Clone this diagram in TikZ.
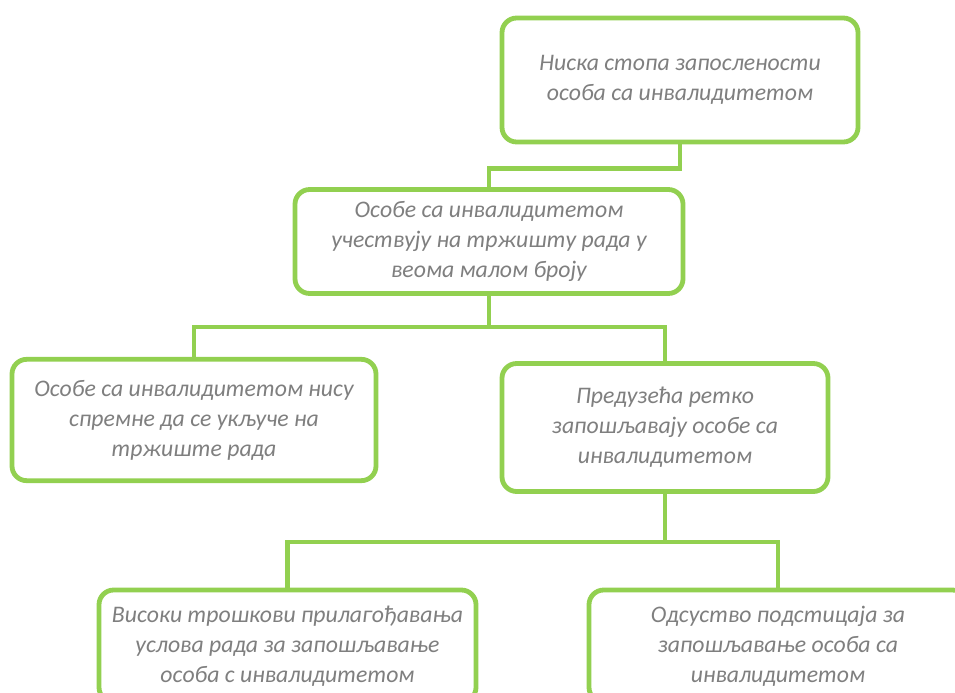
\documentclass[tikz,border=0pt]{standalone}
\usepackage{fontspec}
\setmainfont{Carlito}
\usepackage{xcolor}
\usepackage{tikz}
\definecolor{leafgreen}{HTML}{92D050}
\definecolor{textgray}{HTML}{7F7F7F}
\tikzset{
  box/.style={draw=leafgreen, line width=3.6pt, rounded corners=11pt, fill=white,
    align=center, text=textgray, font=\fontsize{17.8}{22.5}\selectfont\itshape, inner sep=0pt},
  link/.style={draw=leafgreen, line width=3.2pt}
}

\begin{document}
\begin{tikzpicture}[x=0.75pt,y=-0.75pt]
\useasboundingbox (0,0) rectangle (955,692);
\clip (0,0) rectangle (955,692);
% boxes
\node[box, minimum width=267pt, minimum height=93pt] (top) at (680,80)
  {Ниска стопа запослености\\особа са инвалидитетом};
\node[box, minimum width=291pt, minimum height=78pt] (mid) at (489,241.5)
  {Особе са инвалидитетом\\учествују на тржишту рада у\\веома малом броју};
\node[box, minimum width=273pt, minimum height=91pt] (left) at (194,420)
  {Особе са инвалидитетом нису\\спремне да се укључе на\\тржиште рада};
\node[box, minimum width=244.5pt, minimum height=96pt] (rmid) at (665,427.5)
  {Предузећа ретко\\запошљавају особе са\\инвалидитетом};
\node[box, minimum width=282.75pt, minimum height=84pt] (bl) at (287.5,646)
  {Високи трошкови прилагођавања\\услова рада за запошљавање\\особа с инвалидитетом};
\node[box, minimum width=283.5pt, minimum height=84pt] (br) at (778,646)
  {Одсуство подстицаја за\\запошљавање особа са\\инвалидитетом};
% connectors
\draw[link] (top.south) -- ++(0,24) coordinate (j0) -| (mid.north);
\draw[link] (mid.south) -- ++(0,31) coordinate (j1);
\draw[link] (left.north) |- (j1) -| (rmid.north);
\draw[link] (rmid.south) -- ++(0,48) coordinate (j2);
\draw[link] (bl.north) |- (j2) -| (br.north);
\end{tikzpicture}
\end{document}
